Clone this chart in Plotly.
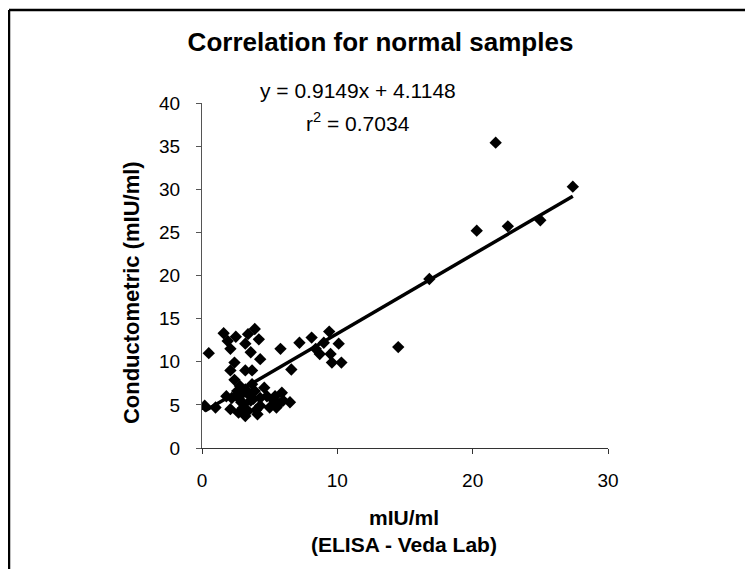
import numpy as np
import plotly.graph_objects as go

# ELISA (Veda Lab) vs conductometric, mIU/ml
elisa = [0.2, 1.0, 2.1, 2.7, 2.2, 2.6, 3.2, 3.7, 3.9, 3.1, 3.4, 3.2, 2.7, 4.1,
         3.6, 4.3, 4.8, 5.3, 5.5, 5.0, 5.9, 5.4, 6.5, 6.0, 4.3, 3.8,
         0.5, 1.6, 1.9, 2.5, 2.1, 3.2, 3.4, 3.9, 4.2, 3.6, 4.3, 2.4, 2.1, 2.4,
         3.2, 3.7, 5.8, 6.6,
         7.2, 8.1, 9.4, 9.0, 10.1, 8.7, 9.5, 9.6, 10.3, 8.4,
         14.5, 16.8, 20.3, 21.7, 22.6, 25.0, 27.4,
         2.9, 3.0, 4.6, 5.7, 2.8, 3.5, 4.0, 1.8, 2.9]
conduct = [4.9, 4.7, 4.5, 5.8, 5.8, 6.6, 6.8, 7.4, 6.6, 5.1, 4.3, 3.7, 4.1, 3.9,
           5.5, 5.8, 6.0, 5.5, 4.7, 4.7, 6.4, 6.0, 5.3, 5.5, 4.9, 5.7,
           11.0, 13.3, 12.4, 12.9, 11.5, 12.1, 13.2, 13.8, 12.6, 11.1, 10.3, 9.9, 9.0, 7.9,
           9.0, 9.0, 11.5, 9.1,
           12.2, 12.8, 13.5, 12.2, 12.1, 10.9, 10.9, 9.9, 9.9, 11.5,
           11.7, 19.6, 25.2, 35.4, 25.7, 26.4, 30.3,
           6.2, 4.6, 7.0, 5.1, 7.2, 6.1, 4.4, 6.0, 5.3]

slope = 0.9149
intercept = 4.1148
r2 = 0.7034

xs = np.array([min(elisa), max(elisa)])
ys = slope * xs + intercept

fig = go.Figure()
fig.add_trace(go.Scatter(x=elisa, y=conduct, mode="markers",
                         marker=dict(symbol="diamond", size=9.5, color="black"),
                         showlegend=False))
fig.add_trace(go.Scatter(x=xs, y=ys, mode="lines",
                         line=dict(color="black", width=3.5),
                         showlegend=False))

# page body adds an 8px margin, so the figure is 8px smaller than the window
fig.update_layout(
    width=745, height=561,
    margin=dict(l=194, r=145, t=95, b=121),
    paper_bgcolor="white", plot_bgcolor="white",
    font=dict(family="Liberation Sans, Arial, sans-serif", color="black", size=19),
    title=dict(text="<b>Correlation for normal samples</b>", x=0.5, xanchor="center",
               y=0.9394, yanchor="middle", font=dict(size=26)),
)
fig.update_xaxes(range=[0, 30], tickvals=[0, 10, 20, 30], showgrid=False,
                 zeroline=False, showline=True, linecolor="#333", linewidth=1,
                 ticks="outside", ticklen=5, tickcolor="#333", ticklabelstandoff=10)
fig.update_yaxes(range=[0, 40], tickvals=list(range(0, 41, 5)), showgrid=False,
                 zeroline=False, showline=True, linecolor="#555", linewidth=1,
                 ticks="outside", ticklen=5, tickcolor="#555", ticklabelstandoff=12)

fig.add_annotation(text="<b>Conductometric (mIU/ml)</b>", textangle=-90,
                   xref="paper", yref="paper", x=-0.174, y=0.45,
                   showarrow=False, xanchor="center", yanchor="middle", font=dict(size=22))
fig.add_annotation(text="<b>mIU/ml<br>(ELISA - Veda Lab)</b>",
                   xref="paper", yref="paper", x=0.4975, y=-0.242,
                   showarrow=False, xanchor="center", yanchor="middle", font=dict(size=21))

fig.add_annotation(text="y = %.4fx + %.4f" % (slope, intercept),
                   xref="paper", yref="paper", x=0.385, y=1.0348,
                   showarrow=False, xanchor="center", yanchor="middle", font=dict(size=21))
fig.add_annotation(text="r<sup>2</sup> = %.4f" % r2,
                   xref="paper", yref="paper", x=0.385, y=0.945,
                   showarrow=False, xanchor="center", yanchor="middle", font=dict(size=21))

# outer chart frame: only the top and left edges are inside the picture
frame_left = -193 / 406
frame_top = 438 / 345
fig.add_shape(type="line", xref="paper", yref="paper",
              x0=frame_left, x1=3, y0=frame_top, y1=frame_top,
              line=dict(color="black", width=2.5))
fig.add_shape(type="line", xref="paper", yref="paper",
              x0=frame_left, x1=frame_left, y0=-2, y1=frame_top,
              line=dict(color="black", width=2.5))

fig.write_html("out.html")
